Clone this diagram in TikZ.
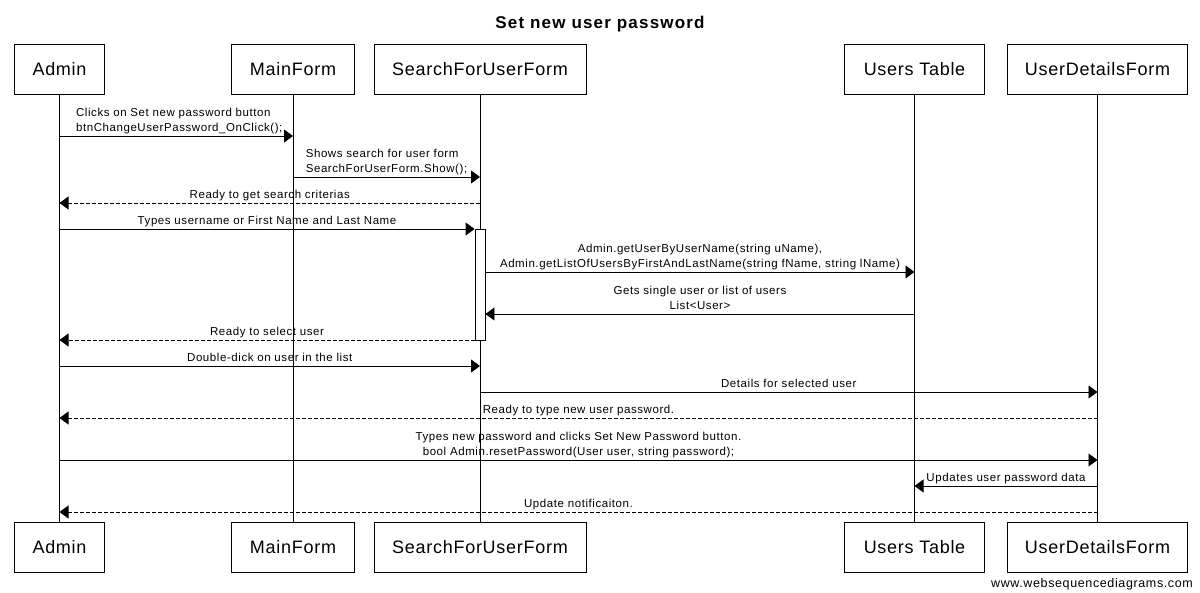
\documentclass[tikz,border=0pt]{standalone}
\usepackage{fontspec}
\setmainfont{Liberation Sans}
\newfontfamily\msgfont[LetterSpace=5]{Liberation Sans}
\newfontfamily\partfont[LetterSpace=4]{Liberation Sans}
\newfontfamily\titlefont[LetterSpace=7]{Liberation Sans Bold}
\usetikzlibrary{arrows.meta}

\begin{document}
\begin{tikzpicture}[x=1pt, y=-1pt, line width=0.9pt,
    >={Triangle[length=9pt,width=13pt]},
    part/.style={draw, fill=white, minimum height=50pt, inner sep=0pt,
        font=\partfont\fontsize{18}{22}\selectfont},
    lbl/.style={font=\msgfont\fontsize{11.5}{15}\selectfont, inner sep=1.5pt, text depth=2.5pt},
    call/.style={->},
    reply/.style={->, dash pattern=on 4pt off 2pt},
    activation/.style={draw, fill=white, minimum width=10pt, minimum height=111pt, inner sep=0pt}]
    \useasboundingbox (0,0) rectangle (1200,593);

    % Title
    \node[anchor=base, font=\titlefont\fontsize{17}{20}\selectfont] (title) at (600,29) {Set new user password};

    % Participants (top)
    \node[part, minimum width=90pt] (admin) at (59.5,69) {Admin};
    \node[part, minimum width=123pt] (mainf) at (293,69) {MainForm};
    \node[part, minimum width=212pt] (search) at (480,69) {SearchForUserForm};
    \node[part, minimum width=140pt] (users) at (914.5,69) {Users Table};
    \node[part, minimum width=180pt] (details) at (1097.5,69) {UserDetailsForm};

    % Participants (bottom)
    \node[part, minimum width=90pt] (adminB) at (59.5,547) {Admin};
    \node[part, minimum width=123pt] (mainfB) at (293,547) {MainForm};
    \node[part, minimum width=212pt] (searchB) at (480,547) {SearchForUserForm};
    \node[part, minimum width=140pt] (usersB) at (914.5,547) {Users Table};
    \node[part, minimum width=180pt] (detailsB) at (1097.5,547) {UserDetailsForm};

    % Lifelines
    \foreach \p/\q in {admin/adminB, mainf/mainfB, search/searchB, users/usersB, details/detailsB}
        \draw (\p.south) -- (\q.north);

    % Activation of the search form
    \node[activation] (act) at (480,284.5) {};

    % Messages
    \draw[call] (admin |- 0,136) -- node[lbl, above, align=left, xshift=3pt]
        {Clicks on Set new password button\\btnChangeUserPassword\_OnClick();} (mainf |- 0,136);
    \draw[call] (mainf |- 0,177) -- node[lbl, above, align=left]
        {Shows search for user form\\SearchForUserForm.Show();} (search |- 0,177);
    \draw[reply] (search |- 0,203) -- node[lbl, above] {Ready to get search criterias} (admin |- 0,203);
    \draw[call] (admin |- 0,229) -- node[lbl, above] {Types username or First Name and Last Name} (act.west |- 0,229);
    \draw[call] (act.east |- 0,272) -- node[lbl, above, align=center]
        {Admin.getUserByUserName(string uName),\\Admin.getListOfUsersByFirstAndLastName(string fName, string lName)} (users |- 0,272);
    \draw[call] (users |- 0,314) -- node[lbl, above, align=center]
        {Gets single user or list of users\\List<User>} (act.east |- 0,314);
    \draw[reply] (act.west |- 0,340) -- node[lbl, above] {Ready to select user} (admin |- 0,340);
    \draw[call] (admin |- 0,366) -- node[lbl, above] {Double-dick on user in the list} (search |- 0,366);
    \draw[call] (search |- 0,392) -- node[lbl, above] {Details for selected user} (details |- 0,392);
    \draw[reply] (details |- 0,418) -- node[lbl, above] {Ready to type new user password.} (admin |- 0,418);
    \draw[call] (admin |- 0,460) -- node[lbl, above, align=center]
        {Types new password and clicks Set New Password button.\\bool Admin.resetPassword(User user, string password);} (details |- 0,460);
    \draw[call] (details |- 0,486) -- node[lbl, above] {Updates user password data} (users |- 0,486);
    \draw[reply] (details |- 0,512) -- node[lbl, above] {Update notificaiton.} (admin |- 0,512);

    % Footer
    \node[anchor=base, font=\msgfont\fontsize{12.5}{14}\selectfont] (footer) at (1092,587) {www.websequencediagrams.com};
\end{tikzpicture}
\end{document}
